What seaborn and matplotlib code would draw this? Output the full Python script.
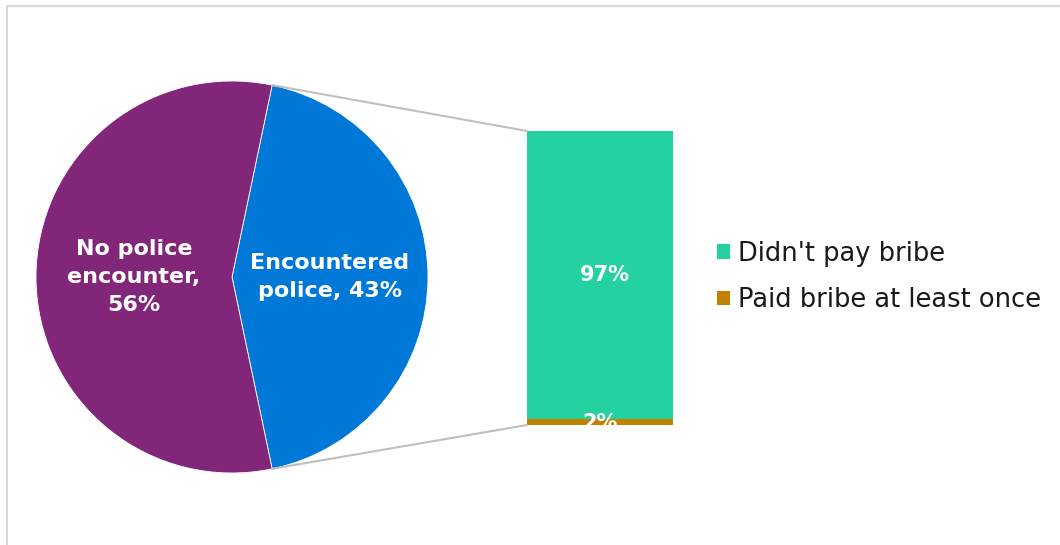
import numpy as np
import matplotlib
matplotlib.use("Agg")
import matplotlib.pyplot as plt
from matplotlib.patches import ConnectionPatch, Rectangle, Patch
import seaborn as sns
import pandas as pd

# Share of respondents by police contact
pie_labels = ["Encountered\npolice, 43%", "No police\nencounter,\n56%"]
pie_values = [43, 56]
pie_colors = ["#0078D7", "#82267A"]

# Breakdown of those who encountered police
bar_categories = ["Didn't pay bribe", "Paid bribe at least once"]
bar_values = [97, 2]
bar_labels = ["97%", "2%"]
bar_colors = ["#23D2A0", "#C18200"]

sns.set_theme(style="white")
plt.rcParams["font.family"] = ["DejaVu Sans"]

W, H = 1060, 545
fig = plt.figure(figsize=(W / 100, H / 100), dpi=100)
fig.patch.set_facecolor("white")

# light frame around the chart area
fig.add_artist(Rectangle((6.5 / W, -0.2), 1.3, (H - 5.5) / H + 0.2,
                         transform=fig.transFigure, fill=False,
                         edgecolor="#D9D9D9", linewidth=1.5))

# ---- pie ----
cx, cy, r = 232, 277, 196
ax_pie = fig.add_axes([(cx - r) / W, (H - cy - r) / H, 2 * r / W, 2 * r / H])
total = sum(pie_values)
start = -pie_values[0] / total * 180.0
wedges, texts = ax_pie.pie(pie_values, colors=pie_colors, startangle=start,
                           counterclock=True, labels=pie_labels,
                           labeldistance=0.5,
                           wedgeprops=dict(edgecolor="white", linewidth=0.6),
                           textprops=dict(color="white", fontsize=16,
                                          fontweight="bold", linespacing=1.5))
for t in texts:
    t.set_horizontalalignment("center")
    t.set_verticalalignment("center")
ax_pie.set_xlim(-1, 1)
ax_pie.set_ylim(-1, 1)
ax_pie.set_aspect("equal")
ax_pie.axis("off")

# ---- stacked bar ----
bx0, bx1, by0, by1 = 527, 673, 131, 425
ax_bar = fig.add_axes([bx0 / W, (H - by1) / H, (bx1 - bx0) / W, (by1 - by0) / H])
btotal = sum(bar_values)
df = pd.DataFrame({"g": ["x"], "top": [btotal], "bottom": [bar_values[1]]})
sns.barplot(data=df, x="g", y="top", color=bar_colors[0], width=1.0,
            saturation=1, linewidth=0, ax=ax_bar)
sns.barplot(data=df, x="g", y="bottom", color=bar_colors[1], width=1.0,
            saturation=1, linewidth=0, ax=ax_bar)
ax_bar.set_xlim(-0.5, 0.5)
ax_bar.set_ylim(0, btotal)
ax_bar.axis("off")

# segment labels
ax_bar.text(0.03, bar_values[1] + bar_values[0] / 2, bar_labels[0], ha="center",
            va="center", color="white", fontsize=15, fontweight="bold")
ax_bar.text(0, bar_values[1] / 2 - 0.3, bar_labels[1], ha="center",
            va="center", color="white", fontsize=15, fontweight="bold",
            clip_on=False)

# ---- connector lines from the pie wedge to the bar ----
theta_top = np.deg2rad(start + pie_values[0] / total * 360.0)
theta_bot = np.deg2rad(start)
for theta, ybar in [(theta_top, btotal), (theta_bot, 0)]:
    con = ConnectionPatch(xyA=(np.cos(theta), np.sin(theta)), coordsA=ax_pie.transData,
                          xyB=(-0.5, ybar), coordsB=ax_bar.transData,
                          color="#BFBFBF", linewidth=1.5)
    fig.add_artist(con)

# ---- legend ----
handles = [Patch(facecolor=c, edgecolor="none") for c in bar_colors]
fig.legend(handles, bar_categories, loc="center left",
           bbox_to_anchor=(712 / W, (H - 277) / H), frameon=False,
           fontsize=18.5, handlelength=0.5, handleheight=0.5,
           handletextpad=0.3, labelspacing=0.8, labelcolor="#1A1A1A",
           borderpad=0.1, borderaxespad=0.1)

fig.savefig("out.png", dpi=100, facecolor="white")
